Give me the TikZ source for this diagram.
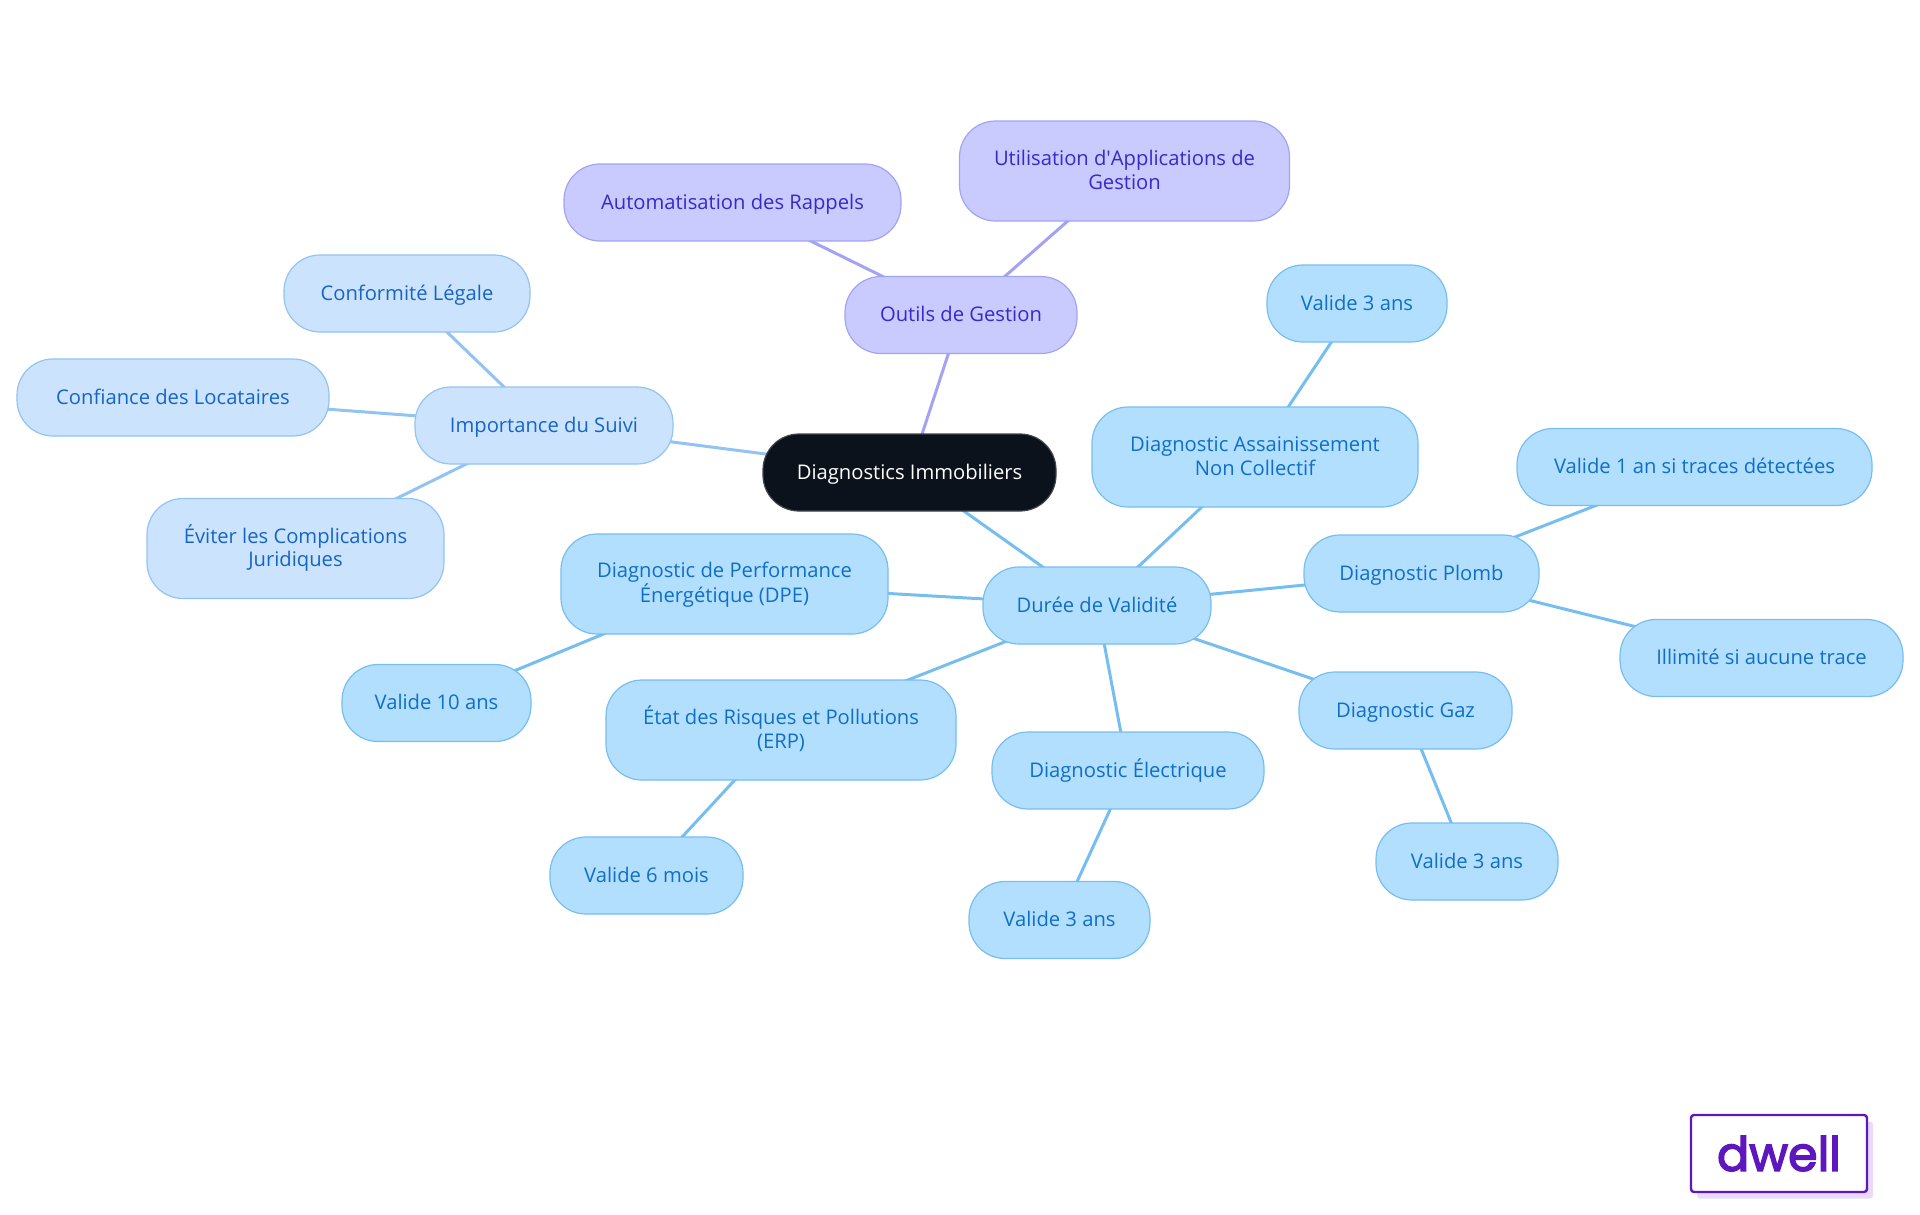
\documentclass[tikz,border=0pt]{standalone}
\usepackage{fontspec}
\setmainfont{Open Sans}
\newfontfamily\logofont[FakeBold=3]{Poppins}
\usetikzlibrary{backgrounds}
\definecolor{rootfill}{HTML}{0B121B}
\definecolor{rootline}{HTML}{3F444B}
\definecolor{bluefill}{HTML}{B3DFFF}
\definecolor{blueline}{HTML}{76BEEF}
\definecolor{bluetext}{HTML}{0F6FC6}
\definecolor{palefill}{HTML}{CCE3FD}
\definecolor{paleline}{HTML}{93C3F2}
\definecolor{paletext}{HTML}{1565C8}
\definecolor{violetfill}{HTML}{C9CBFF}
\definecolor{violetline}{HTML}{A3A3F5}
\definecolor{violettext}{HTML}{3A28C8}
\definecolor{logocolor}{HTML}{5E17BE}
\definecolor{logoshadow}{HTML}{E8DAF8}
\tikzset{
  pill/.style={draw, line width=1.2pt, rounded corners=36pt, inner sep=0pt, align=center,
    minimum height=77pt, text height=17pt, text depth=4pt, font=\fontsize{20.2}{23.3}\selectfont},
  twolines/.style={minimum height=100pt, text height=40pt},
  bluepill/.style={pill, fill=bluefill, draw=blueline, text=bluetext},
  palepill/.style={pill, fill=palefill, draw=paleline, text=paletext},
  violetpill/.style={pill, fill=violetfill, draw=violetline, text=violettext},
  rootpill/.style={pill, fill=rootfill, draw=rootline, text=white},
  bluelink/.style={draw=blueline, line width=3pt},
  palelink/.style={draw=paleline, line width=3pt},
  violetlink/.style={draw=violetline, line width=3pt}
}
\begin{document}
\begin{tikzpicture}[x=1pt,y=-1pt]
\useasboundingbox (0,0) rectangle (1920,1215);
\node[rootpill,minimum width=293pt] (root) at (909.5,472.5) {Diagnostics Immobiliers};
\node[violetpill,minimum width=232pt] (outils) at (961,315) {Outils de Gestion};
\node[violetpill,minimum width=337pt] (rappels) at (732.5,202.5) {Automatisation des Rappels};
\node[violetpill,twolines,minimum width=330pt] (applis) at (1124.5,171) {Utilisation d\textquotesingle Applications de\\Gestion};
\node[palepill,minimum width=258pt] (suivi) at (544,425.5) {Importance du Suivi};
\node[palepill,minimum width=246pt] (legale) at (407,293.5) {Conformité Légale};
\node[palepill,minimum width=312pt] (locataires) at (173,397.5) {Confiance des Locataires};
\node[palepill,twolines,minimum width=297pt] (juridiques) at (295.5,548.5) {Éviter les Complications\\Juridiques};
\node[bluepill,minimum width=228pt] (duree) at (1097,605.5) {Durée de Validité};
\node[bluepill,twolines,minimum width=327pt] (dpe) at (724.5,584) {Diagnostic de Performance\\Énergétique (DPE)};
\node[bluepill,minimum width=189pt] (dpeval) at (436.5,703) {Valide 10 ans};
\node[bluepill,twolines,minimum width=350pt] (erp) at (781,730) {État des Risques et Pollutions\\(ERP)};
\node[bluepill,minimum width=193pt] (erpval) at (646.5,875.5) {Valide 6 mois};
\node[bluepill,minimum width=272pt] (elec) at (1128,770.5) {Diagnostic Électrique};
\node[bluepill,minimum width=181pt] (elecval) at (1059.5,920) {Valide 3 ans};
\node[bluepill,minimum width=213pt] (gaz) at (1405.5,710.5) {Diagnostic Gaz};
\node[bluepill,minimum width=182pt] (gazval) at (1467,861.5) {Valide 3 ans};
\node[bluepill,minimum width=235pt] (plomb) at (1421.5,573.5) {Diagnostic Plomb};
\node[bluepill,minimum width=355pt] (plombun) at (1694.5,467) {Valide 1 an si traces détectées};
\node[bluepill,minimum width=283pt] (plombdeux) at (1761.5,658) {Illimité si aucune trace};
\node[bluepill,twolines,minimum width=326pt] (anc) at (1255,457) {Diagnostic Assainissement\\Non Collectif};
\node[bluepill,minimum width=180pt] (ancval) at (1357,303.5) {Valide 3 ans};
\begin{pgfonlayer}{background}
\draw[violetlink] (root.center)--(outils.center);
\draw[violetlink] (outils.center)--(rappels.center);
\draw[violetlink] (outils.center)--(applis.center);
\draw[palelink] (root.center)--(suivi.center);
\draw[palelink] (suivi.center)--(legale.center);
\draw[palelink] (suivi.center)--(locataires.center);
\draw[palelink] (suivi.center)--(juridiques.center);
\draw[bluelink] (root.center)--(duree.center);
\draw[bluelink] (duree.center)--(dpe.center);
\draw[bluelink] (dpe.center)--(dpeval.center);
\draw[bluelink] (duree.center)--(erp.center);
\draw[bluelink] (erp.center)--(erpval.center);
\draw[bluelink] (duree.center)--(elec.center);
\draw[bluelink] (elec.center)--(elecval.center);
\draw[bluelink] (duree.center)--(gaz.center);
\draw[bluelink] (gaz.center)--(gazval.center);
\draw[bluelink] (duree.center)--(plomb.center);
\draw[bluelink] (plomb.center)--(plombun.center);
\draw[bluelink] (plomb.center)--(plombdeux.center);
\draw[bluelink] (duree.center)--(anc.center);
\draw[bluelink] (anc.center)--(ancval.center);
\end{pgfonlayer}
\node[fill=logoshadow,rounded corners=3pt,minimum width=176pt,minimum height=77pt,inner sep=0pt] (logoback) at (1785,1160) {};
\node[draw=logocolor,fill=white,line width=2.4pt,rounded corners=3pt,minimum width=176pt,minimum height=77pt,inner sep=0pt,text=logocolor,font=\logofont\fontsize{47.5}{47.5}\selectfont] (logo) at (1779,1153.5) {dwell};
\end{tikzpicture}
\end{document}
